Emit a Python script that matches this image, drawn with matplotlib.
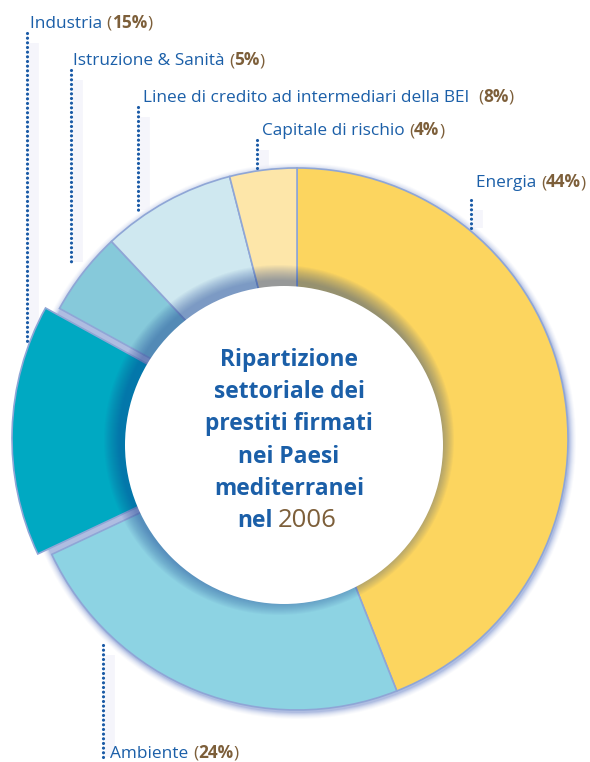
import matplotlib.pyplot as plt
from matplotlib.patches import Circle

W, H = 590, 762

# data
sectors = ['Energia', 'Ambiente', 'Industria', 'Istruzione & Sanità',
           'Linee di credito ad intermediari della BEI ', 'Capitale di rischio']
shares = [44, 24, 15, 5, 8, 4]
colors = ['#fcd55f', '#8dd3e3', '#00a9c2', '#86c9da', '#cfe8f0', '#fde6a9']
explode = [0, 0, 14, 0, 0, 0]  # pixels

# label layout (pixels, y from top): text x, baseline y, line x, line y0, line y1
label_pos = {
    'Energia': (476, 187, 471, 200, 228),
    'Ambiente': (110, 758, 103, 645, 757),
    'Industria': (30, 28, 27, 33, 343),
    'Istruzione & Sanità': (73, 65, 71, 70, 262),
    'Linee di credito ad intermediari della BEI ': (143, 102, 138, 107, 210),
    'Capitale di rischio': (262, 135, 257, 140, 168),
}

title_lines = ['Ripartizione', 'settoriale dei', 'prestiti firmati',
               'nei Paesi', 'mediterranei']
title_year = '2006'

BLUE = '#1b5fa8'
BROWN = '#7d5f3a'
FONT = 'Open Sans'
FS = 12.4

fig = plt.figure(figsize=(W / 100, H / 100), dpi=100)
ax = fig.add_axes([0, 0, 1, 1])

cx, cy, R = 297, H - 439, 271

# soft blue glow behind the ring
for k, a in zip(range(7, 0, -1), [0.03, 0.04, 0.05, 0.07, 0.09, 0.12, 0.16]):
    ax.add_patch(Circle((cx + 1, cy - 2), R + k, color='#5570c0', alpha=a, lw=0, zorder=1))

wedges, _ = ax.pie(shares, colors=colors, startangle=90, counterclock=False,
                   center=(cx, cy), radius=R, explode=explode,
                   wedgeprops=dict(width=R - 135, edgecolor='#8fa6d6', linewidth=1.2))
for w in wedges:
    w.set_zorder(2)

# inner shadow around the white disc (light from lower right)
wx, wy, wr = 284, H - 445, 159
for k in range(16, 0, -1):
    ax.add_patch(Circle((wx - 5, wy + 5), wr + k, color='#1f4597',
                        alpha=0.035, lw=0, zorder=3))
ax.add_patch(Circle((wx, wy), wr, color='white', lw=0, zorder=4))

# centre title
ty = H - 366
for line in title_lines:
    ax.text(289, ty, line, ha='center', va='baseline', fontsize=16.4,
            fontweight='bold', color=BLUE, family=FONT, zorder=5)
    ty -= 32.2
ax.text(273, ty, 'nel', ha='right', va='baseline', fontsize=16.4,
        fontweight='bold', color=BLUE, family=FONT, zorder=5)
ax.text(278, ty, title_year, ha='left', va='baseline', fontsize=18.5,
        color=BROWN, family=FONT, zorder=5)

# labels with dotted leader lines
for name, pct in zip(sectors, shares):
    tx, tb, lx, y0, y1 = label_pos[name]
    ax.plot([lx + 7, lx + 7], [H - y0 - 10, H - y1], color='#ececf8', lw=7,
            alpha=0.5, solid_capstyle='butt', zorder=1.5)
    ax.plot([lx, lx], [H - y0, H - y1], color='#1a5aa6', lw=2.3,
            linestyle=(0, (0.01, 1.45)), dash_capstyle='round', zorder=6)
    t = ax.text(tx, H - tb, name + ' ', ha='left', va='baseline', fontsize=FS,
                color=BLUE, family=FONT, zorder=6)
    t = ax.annotate('(', xy=(1, 0), xycoords=t, va='bottom', ha='left',
                    fontsize=FS, color=BROWN, family=FONT, zorder=6)
    t = ax.annotate(f'{pct}%', xy=(1, 0), xycoords=t, va='bottom', ha='left',
                    fontsize=FS, fontweight='bold', color=BROWN, family=FONT, zorder=6)
    ax.annotate(')', xy=(1, 0), xycoords=t, va='bottom', ha='left',
                fontsize=FS, color=BROWN, family=FONT, zorder=6)

ax.set_xlim(0, W)
ax.set_ylim(0, H)
ax.set_aspect('equal')
ax.axis('off')

fig.savefig('out.png', dpi=100, facecolor='white')
